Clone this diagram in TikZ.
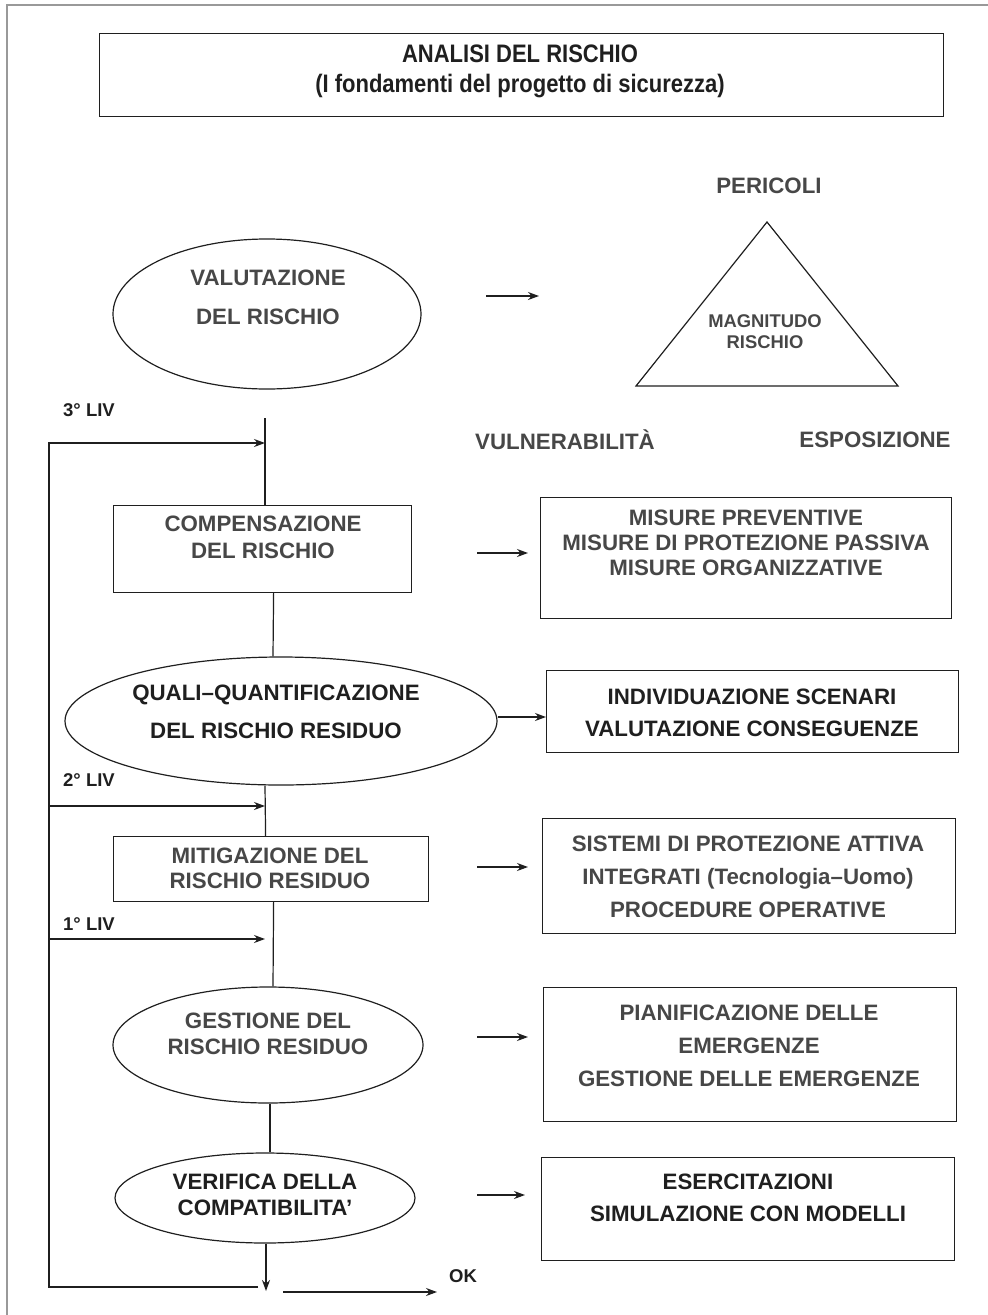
\documentclass[tikz,border=0pt]{standalone}
\usepackage{fontspec}
\setmainfont{Liberation Sans}
\usetikzlibrary{shapes.geometric,arrows.meta}
\definecolor{ink}{gray}{0.12}
\definecolor{inkl}{gray}{0.28}
\newcommand{\tallline}[1]{\scalebox{1}[1.15]{#1}}
\begin{document}
\begin{tikzpicture}[x=1pt,y=-1pt,
  shp/.style={draw=ink,line width=1.2pt},
  box/.style={shp,rectangle,inner sep=0pt,anchor=north west},
  ell/.style={shp,ellipse,inner sep=0pt},
  ln/.style={draw=ink,line width=1.2pt},
  arr/.style={ln,-{Stealth[length=11pt,width=8pt]}},
  lbl/.style={font=\bfseries\fontsize{22.3}{26}\selectfont,text=ink,align=center,inner sep=0pt},
  lbll/.style={lbl,text=inkl},
  sm/.style={font=\bfseries\fontsize{18.5}{22}\selectfont,text=ink,inner sep=0pt},
]
\useasboundingbox (0,0) rectangle (988,1315);
% outer frame
\coordinate (fr1) at (7,1315);
\coordinate (fr2) at (7,5);
\coordinate (fr3) at (988,5);
\draw[draw=gray!80,line width=1.2pt] (fr1) -- (fr2) -- (fr3);

% title
\node[box,minimum width=844pt,minimum height=83pt] (title) at (99,33) {};
\node[lbl,font=\bfseries\fontsize{22}{30}\selectfont] (titlet) at (520,71) {\tallline{ANALISI DEL RISCHIO}\\\tallline{(I fondamenti del progetto di sicurezza)}};

% triangle
\coordinate (tA) at (767,222);
\coordinate (tB) at (636,386);
\coordinate (tC) at (898,386);
\draw[ln] (tA) -- (tB) -- (tC) -- cycle;
\node[lbll] (peric) at (769,186) {PERICOLI};
\node[lbll,font=\bfseries\fontsize{18.4}{21}\selectfont] (magn) at (765,332) {MAGNITUDO\\RISCHIO};
\node[lbll] (vuln) at (565,440) {VULNERABILITÀ};
\node[lbll] (espo) at (875,440) {ESPOSIZIONE};

% left column shapes
\node[ell,minimum width=308pt,minimum height=150pt] (valut) at (267,314) {};
\node[lbll,font=\bfseries\fontsize{22.3}{39}\selectfont] (valutt) at (268,297) {VALUTAZIONE\\DEL RISCHIO};

\node[box,minimum width=298pt,minimum height=87pt] (comp) at (113,505) {};
\node[lbll,font=\bfseries\fontsize{22.3}{27}\selectfont] (compt) at (263,537) {COMPENSAZIONE\\DEL RISCHIO};

\node[ell,minimum width=432pt,minimum height=128pt] (quali) at (281,721) {};
\node[lbl,font=\bfseries\fontsize{22.3}{38}\selectfont] (qualit) at (276,712) {QUALI–QUANTIFICAZIONE\\DEL RISCHIO RESIDUO};

\node[box,minimum width=315pt,minimum height=65pt] (mitig) at (113,836) {};
\node[lbll,font=\bfseries\fontsize{22.3}{25}\selectfont] (mitigt) at (270,868) {MITIGAZIONE DEL\\RISCHIO RESIDUO};

\node[ell,minimum width=310pt,minimum height=116pt] (gest) at (268,1045) {};
\node[lbll,font=\bfseries\fontsize{22.3}{26}\selectfont] (gestt) at (268,1034) {GESTIONE DEL\\RISCHIO RESIDUO};

\node[ell,minimum width=300pt,minimum height=90pt] (verif) at (265,1198) {};
\node[lbl,font=\bfseries\fontsize{22.3}{26}\selectfont] (veri ft) at (265,1195) {VERIFICA DELLA\\COMPATIBILITA’};

% right column boxes
\node[box,minimum width=411pt,minimum height=121pt] (misure) at (540,497) {};
\node[lbll,font=\bfseries\fontsize{22.3}{25}\selectfont] (misuret) at (746,543) {MISURE PREVENTIVE\\MISURE DI PROTEZIONE PASSIVA\\MISURE ORGANIZZATIVE};

\node[box,minimum width=412pt,minimum height=82pt] (indiv) at (546,670) {};
\node[lbl,font=\bfseries\fontsize{22.3}{32}\selectfont] (indivt) at (752,713) {INDIVIDUAZIONE SCENARI\\VALUTAZIONE CONSEGUENZE};

\node[box,minimum width=413pt,minimum height=115pt] (sist) at (542,818) {};
\node[lbll,font=\bfseries\fontsize{22.3}{33}\selectfont] (sistt) at (748,877) {SISTEMI DI PROTEZIONE ATTIVA\\INTEGRATI (Tecnologia–Uomo)\\PROCEDURE OPERATIVE};

\node[box,minimum width=413pt,minimum height=134pt] (pian) at (543,987) {};
\node[lbll,font=\bfseries\fontsize{22.3}{33}\selectfont] (piant) at (749,1046) {PIANIFICAZIONE DELLE\\EMERGENZE\\GESTIONE DELLE EMERGENZE};

\node[box,minimum width=413pt,minimum height=103pt] (eser) at (541,1157) {};
\node[lbl,font=\bfseries\fontsize{22.3}{32}\selectfont] (esert) at (748,1198) {ESERCITAZIONI\\SIMULAZIONE CON MODELLI};

% level labels
\node[sm,anchor=west] (liv3) at (63,410) {3° LIV};
\node[sm,anchor=west] (liv2) at (63,780) {2° LIV};
\node[sm,anchor=west] (liv1) at (63,924) {1° LIV};
\node[sm] (ok) at (463,1276) {OK};

% vertical flow lines
\coordinate (top3) at (265,418);
\draw[ln] (top3) -- (top3 |- comp.north);
\draw[ln] ([xshift=11pt]comp.south) -- ([xshift=-8pt]quali.north);
\draw[ln] ([xshift=-16pt]quali.south) -- ([xshift=-5.5pt]mitig.north);
\draw[ln] ([xshift=2.5pt]mitig.south) -- ([xshift=5pt]gest.north);
\draw[ln] ([xshift=2pt]gest.south) -- ([xshift=5pt]verif.north);
\coordinate (dn) at (266,1291);
\draw[arr] ([xshift=1pt]verif.south) -- (dn);

% feedback loop
\coordinate (j3) at (265,443);
\coordinate (f3) at (49,443);
\coordinate (j2) at (265,806);
\coordinate (f2) at (49,806);
\coordinate (j1) at (265,939);
\coordinate (f1) at (49,939);
\coordinate (fb) at (49,1287);
\coordinate (nk) at (258,1287);
\draw[arr] (nk) -- (fb) -- (f3) -- (j3);
\draw[arr] (f2) -- (j2);
\draw[arr] (f1) -- (j1);
\coordinate (ok1) at (283,1292);
\coordinate (ok2) at (437,1292);
\draw[arr] (ok1) -- (ok2);

% right arrows
\coordinate (a1s) at (486,296);
\coordinate (a1e) at (539,296);
\draw[arr] (a1s) -- (a1e);
\coordinate (a2s) at (477,553);
\coordinate (a2e) at (528,553);
\draw[arr] (a2s) -- (a2e);
\coordinate (y717) at (0,717);
\draw[arr] (quali.east |- y717) -- (indiv.west |- y717);
\coordinate (a4s) at (477,867);
\coordinate (a4e) at (528,867);
\draw[arr] (a4s) -- (a4e);
\coordinate (a5s) at (477,1037);
\coordinate (a5e) at (528,1037);
\draw[arr] (a5s) -- (a5e);
\coordinate (a6s) at (477,1195);
\coordinate (a6e) at (525,1195);
\draw[arr] (a6s) -- (a6e);
\end{tikzpicture}
\end{document}
